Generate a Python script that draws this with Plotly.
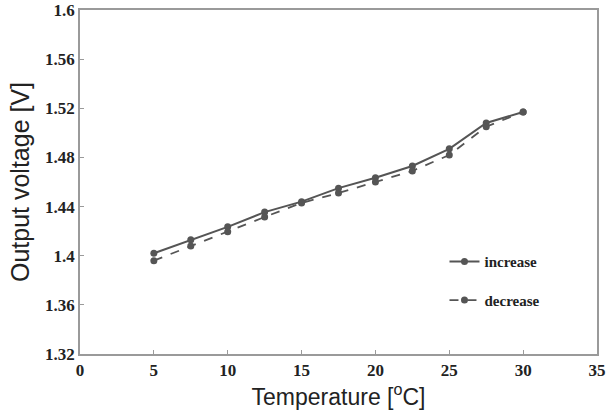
import plotly.graph_objects as go

temperature = [5, 7.5, 10, 12.5, 15, 17.5, 20, 22.5, 25, 27.5, 30]
increase = [1.402, 1.413, 1.4235, 1.4355, 1.444, 1.455, 1.4635, 1.473, 1.487, 1.508, 1.517]
decrease = [1.396, 1.408, 1.4195, 1.4315, 1.443, 1.451, 1.460, 1.469, 1.482, 1.505, 1.517]

x_ticks = [0, 5, 10, 15, 20, 25, 30, 35]
x_labels = ["0", "5", "10", "15", "20", "25", "30", "35"]
y_ticks = [1.32, 1.36, 1.4, 1.44, 1.48, 1.52, 1.56, 1.6]
y_labels = ["1.32", "1.36", "1.4", "1.44", "1.48", "1.52", "1.56", "1.6"]

col = "#555555"
fig = go.Figure()
fig.add_trace(go.Scatter(x=temperature, y=increase, name="<b>increase</b>", mode="lines+markers",
                         legendgroup="a",
                         line=dict(color=col, width=2), marker=dict(size=7, color=col)))
fig.add_trace(go.Scatter(x=temperature, y=decrease, name="<b>decrease</b>", mode="lines+markers",
                         legendgroup="b",
                         line=dict(color=col, width=1.8, dash="dash"), marker=dict(size=7, color=col)))

tickfont = dict(family="Liberation Serif", size=17, color="#222222")
axis_common = dict(showgrid=False, zeroline=False, showline=True, linecolor="#9a9a9a", linewidth=1.5,
                   mirror=True, ticks="inside", ticklen=4, tickcolor="#9a9a9a", tickfont=tickfont,
                   automargin=False)

fig.update_layout(
    width=608, height=414, margin=dict(l=80, r=11, t=10, b=60),
    paper_bgcolor="white", plot_bgcolor="white",
    xaxis=dict(range=[0, 35], tickvals=x_ticks, ticktext=["<b>%s</b>" % t for t in x_labels],
               title=dict(text="Temperature [<sup>o</sup>C]", standoff=2,
                          font=dict(family="Liberation Sans", size=23, color="#222222")), **axis_common),
    yaxis=dict(range=[1.32, 1.6], tickvals=y_ticks, ticktext=["<b>%s</b>" % t for t in y_labels],
               title=dict(text="Output voltage [V]", standoff=8,
                          font=dict(family="Liberation Sans", size=25, color="#222222")), **axis_common),
    legend=dict(x=0.705, y=0.316, xanchor="left", yanchor="top", bgcolor="rgba(0,0,0,0)",
                font=dict(family="Liberation Serif", size=15, color="#222222"),
                traceorder="grouped", tracegroupgap=16),
    showlegend=True,
)

fig.write_html("out.html")
